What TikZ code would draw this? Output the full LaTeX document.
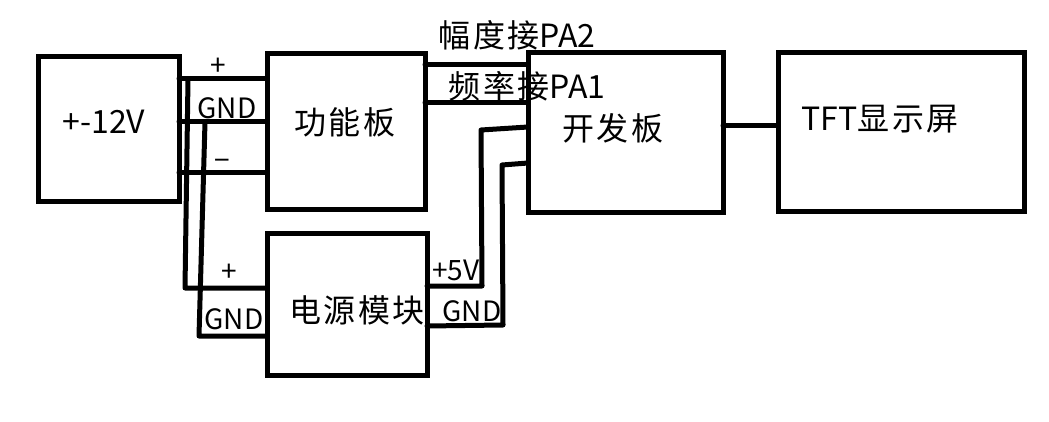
\documentclass[tikz,border=0pt]{standalone}
\usepackage{fontspec}
\setmainfont{Noto Sans CJK SC}
\newfontfamily\cjk[LetterSpace=8]{Noto Sans CJK SC}
\newfontfamily\lat{Noto Sans CJK SC}
\begin{document}
\begin{tikzpicture}[x=1pt,y=-1pt,
  box/.style={draw, line width=5pt, inner sep=0pt, outer sep=0pt},
  wire/.style={line width=5pt, line cap=round, line join=round},
  big/.style={inner sep=0pt, font=\fontsize{32}{32}\selectfont},
  small/.style={inner sep=0pt, font=\lat\fontsize{28}{28}\selectfont}]
\useasboundingbox (0,0) rectangle (1049,422);
% boxes
\node[box, minimum width=141pt, minimum height=145pt] (p12) at (108.5,129.5) {};
\node[box, minimum width=158pt, minimum height=156pt] (fun) at (346,132) {};
\node[box, minimum width=160pt, minimum height=142pt] (pwr) at (347,304) {};
\node[box, minimum width=195pt, minimum height=160pt] (dev) at (625.5,133) {};
\node[box, minimum width=246pt, minimum height=159pt] (tft) at (901,132.5) {};
% box texts
\node[big] (t12) at (104,122) {\lat +-12V};
\node[big] (tfun) at (345,122) {\cjk 功能板};
\node[big] (tpwr) at (357,310) {\cjk 电源模块};
\node[big] (tdev) at (613,128) {\cjk 开发板};
\node[big] (ttft) at (880,119) {\lat TFT\cjk 显示屏};
% wires
\draw[wire] (p12.east |- 0,79) -- (fun.west |- 0,79);
\draw[wire] (p12.east |- 0,122) -- (fun.west |- 0,122);
\draw[wire] (p12.east |- 0,173) -- (fun.west |- 0,173);
\draw[wire] (188,79) -- (185,288) -- (pwr.west |- 0,288);
\draw[wire] (205,122) -- (199,336) -- (pwr.west |- 0,336);
\draw[wire] (fun.east |- 0,65) -- (dev.west |- 0,65);
\draw[wire] (fun.east |- 0,103) -- (dev.west |- 0,103);
\draw[wire] (dev.west |- 0,127) -- (481,130) -- (482,286) -- (pwr.east |- 0,286);
\draw[wire] (dev.west |- 0,163) -- (502,165) -- (503,325) -- (pwr.east |- 0,326);
\draw[wire] (dev.east |- 0,126) -- (tft.west |- 0,126);
% labels
\node[small] (lp1) at (218,67) {+};
\node[small] (lg1) at (227,108) {GND};
\node[small] (lm1) at (222,165) {−};
\node[small] (lp2) at (229,273) {+};
\node[small] (lg2) at (234,319) {GND};
\node[small] (l5v) at (456,270) {+5V};
\node[small] (lg3) at (472,311) {GND};
\node[big] (lpa2) at (517,35) {\cjk 幅度接\lat PA2};
\node[big] (lpa1) at (527,86) {\cjk 频率接\lat PA1};
\end{tikzpicture}
\end{document}
